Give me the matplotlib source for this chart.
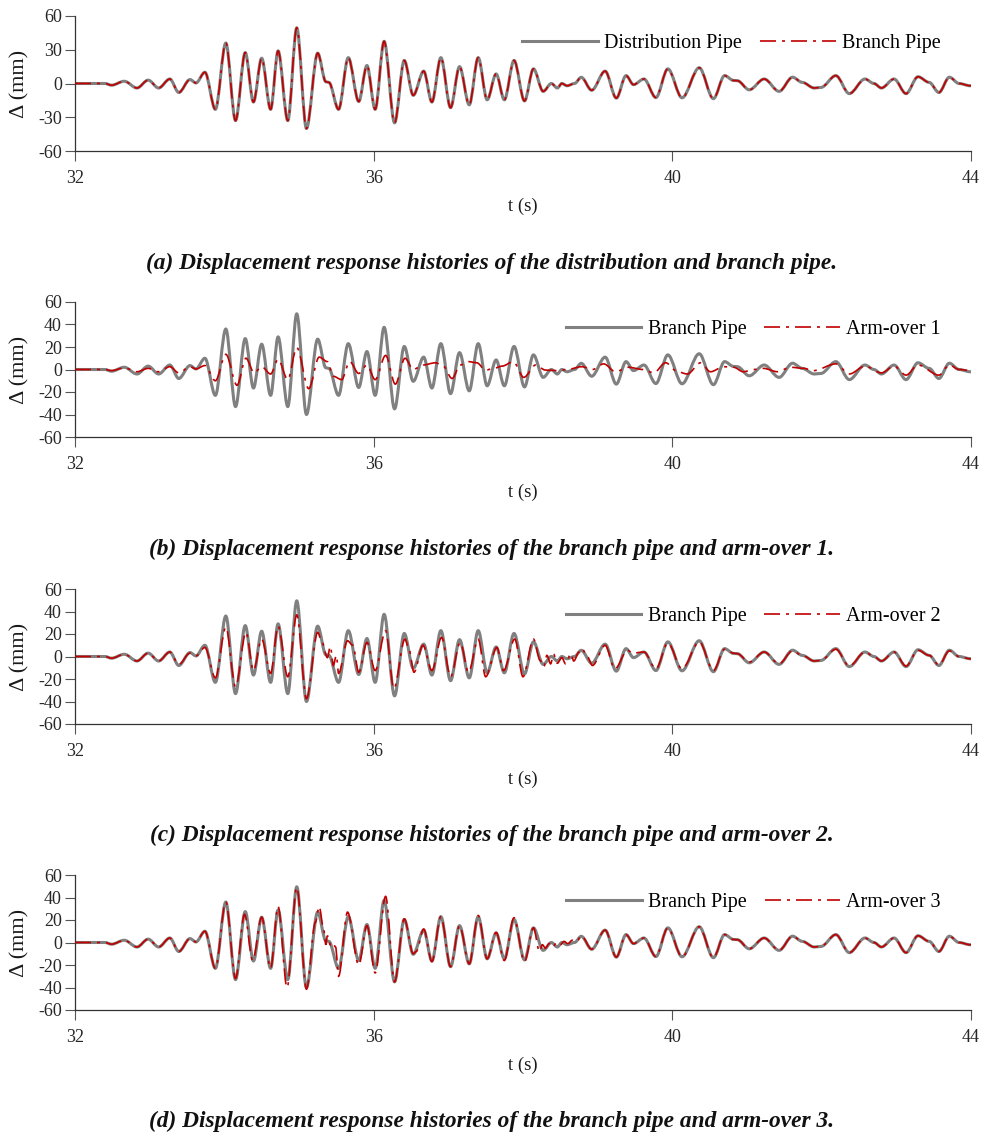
import numpy as np
import matplotlib.pyplot as plt
from matplotlib.path import Path
from matplotlib.patches import PathPatch

plt.rcParams['font.family'] = ['Liberation Serif', 'DejaVu Serif']
plt.rcParams['axes.unicode_minus'] = False

# Distribution pipe response, t in s, displacement in mm
dist_t = [32.00, 32.40, 32.49, 32.66, 32.83, 32.98, 33.12, 33.27, 33.39, 33.54, 33.62, 33.74,
          33.88, 34.02, 34.15, 34.28, 34.39, 34.50, 34.62, 34.72, 34.85, 34.97, 35.10, 35.25,
          35.36, 35.40, 35.53, 35.66, 35.80, 35.91, 36.02, 36.14, 36.28, 36.41, 36.53, 36.67,
          36.78, 36.90, 37.03, 37.15, 37.28, 37.40, 37.52, 37.64, 37.75, 37.88, 38.02, 38.14,
          38.27, 38.38, 38.46, 38.52, 38.59, 38.69, 38.78, 38.92, 39.10, 39.25, 39.38, 39.48,
          39.62, 39.78, 39.94, 40.13, 40.36, 40.55, 40.70, 40.82, 40.87, 41.03, 41.23, 41.43,
          41.61, 41.74, 41.90, 41.99, 42.19, 42.37, 42.58, 42.70, 42.80, 42.97, 43.13, 43.29,
          43.44, 43.57, 43.71, 43.84, 43.99, 44.00]
dist_v = [0, 0, -1.5, 2, -4, 3, -4, 4, -8, 3.5, 0.5, 10,
          -23, 36, -33, 27.5, -16.5, 22.5, -23, 29, -33, 49.5, -40, 27,
          1.5, 1, -23, 23, -16, 16, -23, 37.5, -35, 20.5, -10.5, 11,
          -16.5, 23, -21.5, 15, -19, 23, -14.5, 8.5, -14.5, 20.5, -15.5, 13,
          -7, 0, -4, 0, -2, 0, 5.5, -6, 11, -13, 7, -1,
          4, -12.5, 13, -12.7, 14, -13.5, 7, 2.7, 2.5, -5.6, 4, -7,
          5.6, 1, -4, -3.5, 7, -9, 4, 0, -4, 4, -9, 6,
          1, -8, 5.6, 0, -2, -2]

# branch pipe coincides with the distribution pipe in every panel
branch_t = list(dist_t)
branch_v = list(dist_v)

# Arm-over 1 (panel b)
arm1_t = [32.00, 32.40, 32.49, 32.66, 32.83, 32.98, 33.12, 33.27, 33.39, 33.54, 33.62, 33.74,
          33.88, 34.02, 34.17, 34.29, 34.40, 34.50, 34.62, 34.72, 34.85, 34.97, 35.13, 35.27,
          35.38, 35.46, 35.57, 35.68, 35.80, 35.91, 36.02, 36.16, 36.29, 36.42, 36.53, 36.66,
          36.83, 36.93, 37.05, 37.16, 37.27, 37.38, 37.50, 37.61, 37.72, 37.87, 38.01, 38.17,
          38.30, 38.46, 38.59, 38.79, 38.93, 39.08, 39.24, 39.41, 39.61, 39.75, 39.91, 40.07,
          40.20, 40.38, 40.51, 40.69, 40.82, 40.95, 41.09, 41.22, 41.41, 41.58, 41.76, 41.89,
          42.19, 42.37, 42.58, 42.80, 42.97, 43.13, 43.29, 43.57, 43.71, 43.84, 44.00]
arm1_v = [0, 0, -1, 1.5, -2, 1, -2, 2.5, -3, 2.5, 0.5, 3.5,
          -10, 13.5, -14, 10, -3, 2.5, -4, 9, -9, 19.5, -17, 11,
          7, -6, -9, 7, -3.5, 4, -9, 12.5, -13, 10, 0, 4,
          6, 3, -8, 4, 7, 6, -0.5, 1, 3, 7, -7, 4,
          -0.5, -1, 0, 2.5, 0, 5, -2, 2, 0, -3, 6, -2,
          -4, 6, -2, 2.5, 2, -2, 0, 1, -2, 2, 1, -1,
          5, -4, 3, -3, 3, -5, 4, -5, 4, 0, -1]

# Arm-over 2 (panel c)
arm2_t = [32.00, 32.40, 32.49, 32.66, 32.83, 32.98, 33.12, 33.27, 33.39, 33.54, 33.62, 33.74,
          33.88, 34.02, 34.15, 34.29, 34.39, 34.50, 34.62, 34.72, 34.85, 34.97, 35.10, 35.25,
          35.31, 35.38, 35.42, 35.46, 35.50, 35.53, 35.65, 35.72, 35.80, 35.91, 36.02, 36.16,
          36.27, 36.42, 36.47, 36.54, 36.66, 36.78, 36.91, 37.03, 37.16, 37.27, 37.40, 37.50,
          37.65, 37.74, 37.89, 38.00, 38.14, 38.23, 38.28, 38.32, 38.37, 38.41, 38.46, 38.52,
          38.57, 38.64, 38.68, 38.75, 38.79, 38.86, 38.93, 39.10, 39.23, 39.40, 39.47, 39.62,
          39.78, 39.94, 40.13, 40.36, 40.55, 40.70, 40.82, 40.87, 41.03, 41.23, 41.43, 41.61,
          41.74, 41.90, 41.99, 42.19, 42.37, 42.58, 42.70, 42.80, 42.97, 43.13, 43.29, 43.44,
          43.57, 43.71, 43.84, 43.99, 44.00]
arm2_v = [0, 0, -1.5, 2, -4, 3, -4, 4, -7, 3, 0.5, 8,
          -19, 26, -27, 21.5, -12.5, 15.5, -15, 27, -18, 37, -37.5, 21.5,
          12.5, -1, 9, -8, 1, -15, 14, 10, -14, 12.5, -12.5, 23,
          -28.5, 15.5, 7, -14, 10, -12.5, 17, -18, 12.5, -14, 15.5, -18,
          8, -12.5, 15.5, -18, 15.5, -3.5, -9, 1, -6.5, 2, -6, -1,
          -6.5, 2.5, -4, 4, 7, 0, -8, 10, -11, 5.5, 3, 4,
          -11, 12, -11, 13, -12.5, 6.5, 3, 2.5, -5, 4, -6.5, 5,
          1, -4, -3.5, 6.5, -8.5, 4, 0, -4, 4, -8.5, 5.5, 1,
          -7.5, 5, 0, -2, -2]

# Arm-over 3 (panel d)
arm3_t = [32.00, 32.40, 32.49, 32.66, 32.83, 32.98, 33.12, 33.27, 33.39, 33.54, 33.62, 33.74,
          33.88, 34.02, 34.15, 34.27, 34.38, 34.50, 34.62, 34.72, 34.84, 34.97, 35.10, 35.22,
          35.27, 35.33, 35.36, 35.38, 35.42, 35.45, 35.49, 35.53, 35.65, 35.80, 35.91, 36.02,
          36.16, 36.28, 36.41, 36.53, 36.57, 36.67, 36.78, 36.90, 37.03, 37.15, 37.28, 37.40,
          37.52, 37.64, 37.75, 37.88, 38.02, 38.14, 38.22, 38.26, 38.30, 38.35, 38.40, 38.45,
          38.50, 38.55, 38.60, 38.66, 38.72, 38.78, 38.92, 39.10, 39.25, 39.38, 39.48, 39.62,
          39.78, 39.94, 40.13, 40.36, 40.55, 40.70, 40.82, 40.87, 41.03, 41.23, 41.43, 41.61,
          41.74, 41.90, 41.99, 42.19, 42.37, 42.58, 42.70, 42.80, 42.97, 43.13, 43.29, 43.44,
          43.57, 43.71, 43.84, 43.99, 44.00]
arm3_v = [0, 0, -1.5, 2, -4, 3, -4, 4, -8, 3.5, 0.5, 10,
          -23, 36, -32, 25, -16, 22.5, -23, 32, -40, 49, -41.5, 18,
          32, 12, -2, 6, -2, 0, -4, -30, 27, -20, 15, -27,
          41, -35, 21, -10, -8, 12, -17, 23, -21.5, 15, -19, 24,
          -14.5, 9, -16, 22, -17, 13, -8, -2, -5, -1, -4, 0,
          -2, 1, -1, 2, 1, 6, -6, 11, -13, 7, -1, 4,
          -12.5, 13, -12.7, 14, -13.5, 7, 2.7, 2.5, -5.6, 4, -7, 5.6,
          1, -4, -3.5, 7, -9, 4, 0, -4, 4, -9, 6, 1,
          -8, 5.6, 0, -2, -2]

panels = [
    (dist_t, dist_v, branch_t, branch_v, 'Distribution Pipe', 'Branch Pipe', [-60, -30, 0, 30, 60],
     '(a) Displacement response histories of the distribution and branch pipe.'),
    (branch_t, branch_v, arm1_t, arm1_v, 'Branch Pipe', 'Arm-over 1', [-60, -40, -20, 0, 20, 40, 60],
     '(b) Displacement response histories of the branch pipe and arm-over 1.'),
    (branch_t, branch_v, arm2_t, arm2_v, 'Branch Pipe', 'Arm-over 2', [-60, -40, -20, 0, 20, 40, 60],
     '(c) Displacement response histories of the branch pipe and arm-over 2.'),
    (branch_t, branch_v, arm3_t, arm3_v, 'Branch Pipe', 'Arm-over 3', [-60, -40, -20, 0, 20, 40, 60],
     '(d) Displacement response histories of the branch pipe and arm-over 3.'),
]
xticks = [32, 36, 40, 44]

GRAY = '#808080'
RED = '#c00000'
RED_DASH = (9.6, 3.6, 1.8, 3.6)


def curve(t, v):
    # smooth path through the read peaks/troughs (flat tangent at each one)
    verts = [(t[0], v[0])]
    codes = [Path.MOVETO]
    for k in range(1, len(t)):
        dt = t[k] - t[k - 1]
        verts += [(t[k - 1] + dt / 3, v[k - 1]), (t[k] - dt / 3, v[k]), (t[k], v[k])]
        codes += [Path.CURVE4] * 3
    return Path(verts, codes)


W, H = 984, 1140
fig = plt.figure(figsize=(W / 100, H / 100), dpi=100)

ax_top = [16, 302, 589, 875]      # pixel row of the top of each plot box
ax_h = 135
cap_y = [263, 549, 835, 1121]

for i, (gt, gv, rt, rv, glab, rlab, yt, cap) in enumerate(panels):
    ax = fig.add_axes([75 / W, 1 - (ax_top[i] + ax_h) / H, 896 / W, ax_h / H])
    ax.add_patch(PathPatch(curve(gt, gv), fill=False, edgecolor=GRAY, lw=2.2,
                           joinstyle='round', capstyle='round', zorder=2))
    ax.add_patch(PathPatch(curve(rt, rv), fill=False, edgecolor=RED, lw=1.2,
                           linestyle=(0, RED_DASH), zorder=3))
    # legend entries
    ax.plot([], [], color=GRAY, lw=2.2, label=glab)
    ax.plot([], [], color=RED, lw=1.2, dashes=RED_DASH, label=rlab)
    ax.set_xlim(32, 44)
    ax.set_ylim(-60, 60)
    ax.set_xticks(xticks)
    ax.set_yticks(yt)
    for s in ['top', 'right']:
        ax.spines[s].set_visible(False)
    for s in ['left', 'bottom']:
        ax.spines[s].set_color('#333333')
        ax.spines[s].set_linewidth(0.9)
    ax.tick_params(axis='both', direction='out', length=7.5, width=0.8, color='#555555',
                   labelsize=13, labelcolor='#262626')
    ax.tick_params(axis='x', pad=6)
    ax.tick_params(axis='y', pad=2)
    ax.set_xlabel('t (s)', fontsize=13.5, color='#1a1a1a', va='center')
    ax.xaxis.set_label_coords(0.5, -(206 - 151) / ax_h)
    ax.set_ylabel('Δ (mm)', fontsize=16, color='#1a1a1a', va='center')
    ax.yaxis.set_label_coords((20 - 75) / 896, 0.5)
    ax.legend(loc='center right', bbox_to_anchor=(0.9665, 0.795), ncol=2, frameon=False,
              fontsize=14.5, handlelength=3.77, handletextpad=0.3, columnspacing=0.9,
              borderpad=0, borderaxespad=0)
    fig.text(0.5, 1 - cap_y[i] / H, cap, ha='center', va='center', fontsize=16.8,
             fontweight='bold', style='italic', color='#111111')

fig.savefig('out.png', dpi=100)
